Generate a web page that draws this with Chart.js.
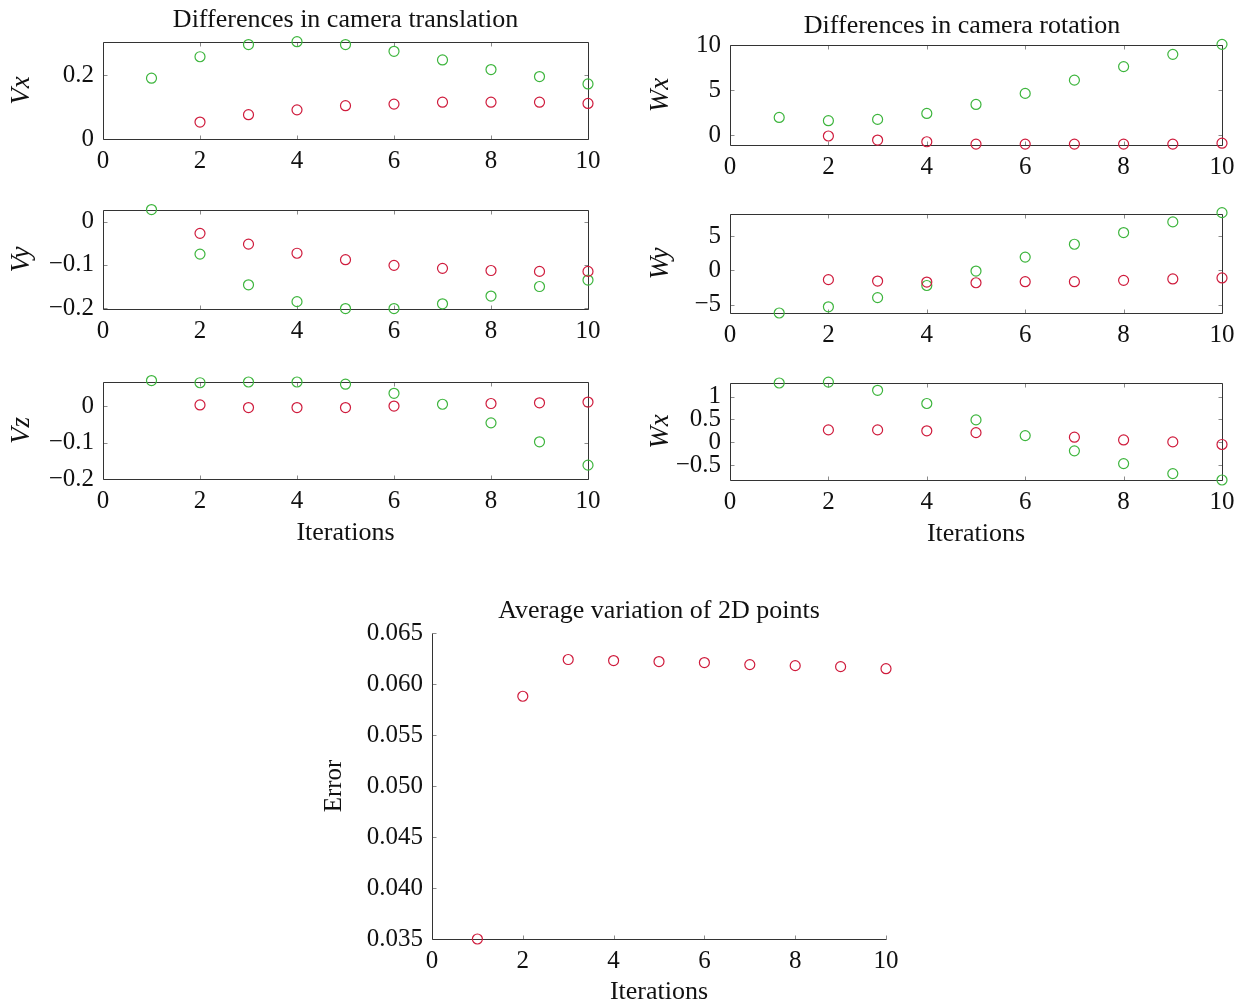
<!DOCTYPE html>
<html>
<head>
<meta charset="utf-8">
<script src="https://cdn.jsdelivr.net/npm/chart.js@4/dist/chart.umd.min.js"></script>
<style>
  html, body { margin: 0; padding: 0; background: #fff; overflow: hidden; }
  #wrap { position: relative; width: 1246px; height: 1005px; overflow: hidden; }
  #wrap canvas { position: absolute; }
</style>
</head>
<body>
<div id="wrap"></div>
<script>
// iteration index shared by every panel
var iterations = [1, 2, 3, 4, 5, 6, 7, 8, 9, 10];
var xTicks = [0, 2, 4, 6, 8, 10];

// differences in camera translation
var vxGreen = [0.190, 0.257, 0.295, 0.304, 0.295, 0.274, 0.247, 0.217, 0.195, 0.172];
var vxRed   = [null, 0.053, 0.076, 0.091, 0.104, 0.109, 0.115, 0.115, 0.115, 0.111];
var vyGreen = [0.028, -0.075, -0.146, -0.185, -0.201, -0.201, -0.190, -0.172, -0.150, -0.135];
var vyRed   = [null, -0.027, -0.052, -0.073, -0.088, -0.101, -0.108, -0.113, -0.115, -0.115];
var vzGreen = [0.070, 0.064, 0.066, 0.066, 0.060, 0.035, 0.005, -0.046, -0.098, -0.162];
var vzRed   = [null, 0.003, -0.004, -0.004, -0.004, 0.000, null, 0.007, 0.009, 0.011];

// differences in camera rotation
var wxGreen  = [1.96, 1.60, 1.74, 2.40, 3.40, 4.63, 6.10, 7.60, 8.96, 10.07];
var wxRed    = [null, -0.10, -0.55, -0.74, -1.00, -1.00, -1.00, -1.00, -1.00, -0.90];
var wyGreen  = [-6.20, -5.30, -3.96, -2.20, -0.10, 1.93, 3.80, 5.50, 7.05, 8.40];
var wyRed    = [null, -1.35, -1.55, -1.70, -1.80, -1.65, -1.65, -1.45, -1.25, -1.10];
var wx2Green = [1.30, 1.32, 1.14, 0.85, 0.49, 0.145, -0.19, -0.47, -0.69, -0.83];
var wx2Red   = [null, 0.27, 0.27, 0.25, 0.21, null, 0.11, 0.05, 0.007, -0.05];

// average variation of 2D points
var errorValues = [0.0350, 0.0588, 0.0624, 0.0623, 0.0622, 0.0621, 0.0619, 0.0618, 0.0617, 0.0615];

// y tick values per panel
var vxTicks = [0, 0.2];
var vyTicks = [-0.2, -0.1, 0];
var vzTicks = [-0.2, -0.1, 0];
var wxTicks = [0, 5, 10];
var wyTicks = [-5, 0, 5];
var wx2Ticks = [-0.5, 0, 0.5, 1];
var errTicks = [0.035, 0.040, 0.045, 0.050, 0.055, 0.060, 0.065];

var RED = '#cf1b3c';
var GREEN = '#3db53d';
var SERIF = '"Liberation Serif", "Times New Roman", serif';

function points(values) {
  var out = [];
  values.forEach(function(v, i) {
    if (v !== null) out.push({ x: iterations[i], y: v });
  });
  return out;
}

function fmt(v) {
  return String(v).replace('-', '\u2212');
}

// box, inward tick marks and a caption above the plot area
var framePlugin = {
  id: 'frame',
  beforeDatasetsDraw: function(chart, args, opts) {
    var a = chart.chartArea, ctx = chart.ctx;
    var xs = chart.scales.x, ys = chart.scales.y;
    var L = Math.round(a.left) + 0.5, R = Math.round(a.right) + 0.5;
    var T = Math.round(a.top) + 0.5, B = Math.round(a.bottom) + 0.5;
    ctx.save();
    ctx.lineWidth = 1;
    ctx.strokeStyle = '#8c8c8c';
    ctx.beginPath();
    xs.ticks.forEach(function(t) {
      var x = Math.round(xs.getPixelForValue(t.value)) + 0.5;
      ctx.moveTo(x, B); ctx.lineTo(x, B - 4);
      if (opts.box) { ctx.moveTo(x, T); ctx.lineTo(x, T + 4); }
    });
    ys.ticks.forEach(function(t) {
      var y = Math.round(ys.getPixelForValue(t.value)) + 0.5;
      ctx.moveTo(L, y); ctx.lineTo(L + 4, y);
      if (opts.box) { ctx.moveTo(R, y); ctx.lineTo(R - 4, y); }
    });
    ctx.stroke();
    ctx.strokeStyle = '#333';
    ctx.beginPath();
    if (opts.box) {
      ctx.rect(L, T, R - L, B - T);
    } else {
      ctx.moveTo(L, T); ctx.lineTo(L, B); ctx.lineTo(R, B);
    }
    ctx.stroke();
    ctx.restore();
  },
  afterDraw: function(chart, args, opts) {
    if (!opts.text) return;
    var a = chart.chartArea, ctx = chart.ctx;
    ctx.save();
    ctx.font = '26px ' + SERIF;
    ctx.fillStyle = '#111';
    ctx.textAlign = 'center';
    ctx.textBaseline = 'middle';
    ctx.fillText(opts.text, (a.left + a.right) / 2 + (opts.dx || 0), a.top - opts.dy);
    ctx.restore();
  }
};

var wrap = document.getElementById('wrap');

function panel(p) {
  var padL = p.padL || 100, padT = 45, padR = 25, padB = 80;
  var cv = document.createElement('canvas');
  cv.width = p.area.r - p.area.l + padL + padR;
  cv.height = p.area.b - p.area.t + padT + padB;
  cv.style.left = (p.area.l - padL) + 'px';
  cv.style.top = (p.area.t - padT) + 'px';
  wrap.appendChild(cv);

  var sets = [];
  if (p.red) sets.push({ data: points(p.red), borderColor: RED });
  if (p.green) sets.push({ data: points(p.green), borderColor: GREEN });
  sets.forEach(function(d) {
    d.backgroundColor = 'rgba(0,0,0,0)';
    d.pointRadius = 5;
    d.pointBorderWidth = 1.2;
    d.showLine = false;
    d.clip = false;
  });

  var tickFont = { family: SERIF, size: 25 };
  new Chart(cv, {
    type: 'scatter',
    data: { datasets: sets },
    options: {
      responsive: false,
      animation: false,
      events: [],
      layout: { padding: { top: padT, right: padR, left: 0, bottom: 0 } },
      plugins: {
        legend: { display: false },
        tooltip: { enabled: false },
        frame: { box: p.box, text: p.title, dx: p.titleDx, dy: p.titleDy }
      },
      scales: {
        x: {
          type: 'linear', min: 0, max: 10,
          afterBuildTicks: function(s) { s.ticks = xTicks.map(function(v) { return { value: v }; }); },
          afterFit: function(s) { s.height = padB; },
          grid: { display: false, drawTicks: false },
          border: { display: false },
          ticks: { font: tickFont, color: '#111', padding: 7, maxRotation: 0, autoSkip: false },
          title: {
            display: !!p.xLabel, text: p.xLabel || '', color: '#111',
            font: { family: SERIF, size: 26 }, padding: { top: 0, bottom: p.xLabelPad || 10 }
          }
        },
        y: {
          type: 'linear', min: p.yMin, max: p.yMax,
          afterBuildTicks: function(s) { s.ticks = p.yTicks.map(function(v) { return { value: v }; }); },
          afterFit: function(s) { s.width = padL; },
          grid: { display: false, drawTicks: false },
          border: { display: false },
          ticks: {
            font: tickFont, color: '#111', padding: 9, autoSkip: false,
            callback: p.yFormat || function(v) { return fmt(v); }
          },
          title: {
            display: true, text: p.yLabel, color: '#111',
            font: p.yLabelFont || { family: SERIF, size: 27, style: 'italic' },
            padding: { top: p.yLabelPad, bottom: 0 }
          }
        }
      }
    },
    plugins: [framePlugin]
  });
}

panel({ area: { l: 103, t: 42, r: 588, b: 139 }, box: true, red: vxRed, green: vxGreen,
  yMin: 0, yMax: 0.303, yTicks: vxTicks, yLabel: 'Vx', yLabelPad: 3,
  title: 'Differences in camera translation', titleDy: 22 });
panel({ area: { l: 103, t: 210, r: 588, b: 309 }, box: true, red: vyRed, green: vyGreen,
  yMin: -0.202, yMax: 0.027, yTicks: vyTicks, yLabel: 'Vy', yLabelPad: 3 });
panel({ area: { l: 103, t: 382, r: 588, b: 479 }, box: true, red: vzRed, green: vzGreen,
  yMin: -0.2, yMax: 0.066, yTicks: vzTicks, yLabel: 'Vz', yLabelPad: 3,
  xLabel: 'Iterations', xLabelPad: 10 });

panel({ area: { l: 730, t: 45, r: 1222, b: 145 }, box: true, red: wxRed, green: wxGreen,
  yMin: -1.1, yMax: 10, yTicks: wxTicks, yLabel: 'Wx', yLabelPad: 15,
  title: 'Differences in camera rotation', titleDy: 19, titleDx: -14 });
panel({ area: { l: 730, t: 214, r: 1222, b: 313 }, box: true, red: wyRed, green: wyGreen,
  yMin: -6.2, yMax: 8.2, yTicks: wyTicks, yLabel: 'Wy', yLabelPad: 15 });
panel({ area: { l: 730, t: 383, r: 1222, b: 480 }, box: true, red: wx2Red, green: wx2Green,
  yMin: -0.83, yMax: 1.3, yTicks: wx2Ticks, yLabel: 'Wx', yLabelPad: 15,
  xLabel: 'Iterations', xLabelPad: 10 });

panel({ area: { l: 432, t: 633, r: 886, b: 939 }, box: false, red: errorValues, padL: 118,
  yMin: 0.035, yMax: 0.065, yTicks: errTicks, yLabel: 'Error', yLabelPad: 5,
  yLabelFont: { family: SERIF, size: 25 },
  yFormat: function(v) { return v.toFixed(3); },
  xLabel: 'Iterations', xLabelPad: 11,
  title: 'Average variation of 2D points', titleDy: 22 });
</script>
</body>
</html>
